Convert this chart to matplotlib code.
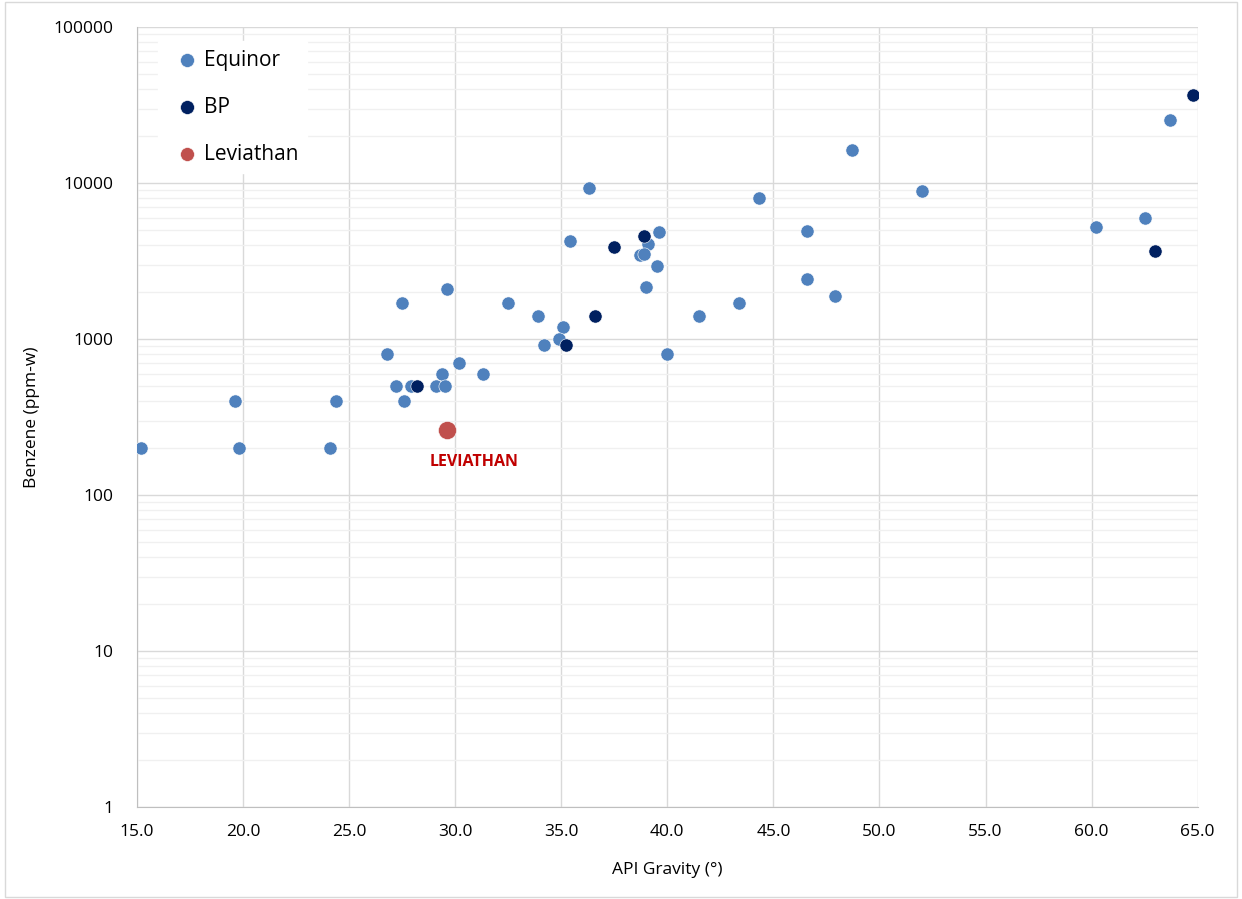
import numpy as np
import matplotlib.pyplot as plt
from matplotlib.ticker import FixedLocator, FuncFormatter, NullFormatter, LogLocator
from matplotlib.patches import Rectangle

plt.rcParams['font.family'] = ['Open Sans', 'DejaVu Sans']

# Equinor crude assays
eq_api = [15.2, 19.6, 19.8, 24.4, 24.1, 27.5, 29.6, 32.5, 33.9, 35.1, 34.9, 34.2,
          26.8, 30.2, 31.3, 29.4, 27.2, 27.9, 29.1, 29.5, 27.6, 36.3, 44.3, 35.4,
          39.6, 39.1, 38.7, 38.9, 39.5, 39.0, 46.6, 46.6, 47.9, 41.5, 43.4, 40.0,
          48.7, 63.7, 52.0, 60.2, 62.5]
eq_benz = [200, 400, 200, 400, 200, 1700, 2100, 1700, 1400, 1200, 1000, 920,
           800, 700, 600, 600, 500, 500, 500, 500, 400, 9300, 8000, 4250,
           4850, 4060, 3450, 3500, 2950, 2150, 4950, 2430, 1900, 1400, 1700, 800,
           16300, 25500, 8900, 5250, 6000]

# BP crude assays
bp_api = [28.2, 35.2, 37.5, 38.9, 36.6, 64.8, 63.0]
bp_benz = [500, 920, 3870, 4600, 1400, 36800, 3650]

# Leviathan
lev_api = [29.6]
lev_benz = [260]

fig = plt.figure(figsize=(12.42, 8.99), dpi=100)
ax = fig.add_axes([137/1242, 1-807/899, (1197.7-137)/1242, (807-27)/899])

ax.scatter(eq_api, eq_benz, s=90, color='#4F81BD', edgecolors='white', linewidths=0.4, zorder=3, label='Equinor')
ax.scatter(bp_api, bp_benz, s=90, color='#002060', edgecolors='white', linewidths=0.4, zorder=4, label='BP')
ax.scatter(lev_api, lev_benz, s=170, color='#C0504D', edgecolors='white', linewidths=0.4, zorder=5, label='Leviathan')

ax.annotate('LEVIATHAN', (lev_api[0], lev_benz[0]), xytext=(20, -23), textcoords='offset points',
            ha='center', va='center', color='#C00000', fontsize=11.5, fontweight='bold')

ax.set_yscale('log')
ax.set_xlim(15, 65)
ax.set_ylim(1, 100000)
ax.set_xticks(np.arange(15, 65.1, 5))
ax.xaxis.set_major_formatter(FuncFormatter(lambda v, p: f'{v:.1f}'))
ax.yaxis.set_major_locator(FixedLocator([1, 10, 100, 1000, 10000, 100000]))
ax.yaxis.set_major_formatter(FuncFormatter(lambda v, p: f'{v:.0f}'))
ax.yaxis.set_minor_locator(LogLocator(base=10, subs=np.arange(2, 10)))
ax.yaxis.set_minor_formatter(NullFormatter())

ax.grid(True, which='major', color='#D9D9D9', linewidth=1.0, zorder=0)
ax.grid(True, which='minor', axis='y', color='#F0F0F0', linewidth=1.0, zorder=0)
ax.set_axisbelow(True)
ax.tick_params(which='both', length=0, labelsize=12.5, colors='black')
ax.tick_params(axis='x', pad=12)
ax.tick_params(axis='y', pad=17)

for side in ['top', 'right']:
    ax.spines[side].set_visible(False)
for side in ['left', 'bottom']:
    ax.spines[side].set_color('#BFBFBF')

ax.set_xlabel('API Gravity (°)', fontsize=12.5, labelpad=16)
ax.set_ylabel('Benzene (ppm-w)', fontsize=12.5, labelpad=10)

leg = ax.legend(loc='upper left', bbox_to_anchor=(0.01, 0.995), fontsize=15, frameon=True,
                fancybox=False, edgecolor='white', framealpha=1, handletextpad=-0.2,
                labelspacing=1.25, borderpad=0.4, scatterpoints=1)
for h in leg.legend_handles:
    h.set_sizes([100])

fig.patches.append(Rectangle((0.004, 0.002), 0.992, 0.996, transform=fig.transFigure,
                             fill=False, edgecolor='#D9D9D9', linewidth=1))

fig.savefig('out.png', dpi=100)
